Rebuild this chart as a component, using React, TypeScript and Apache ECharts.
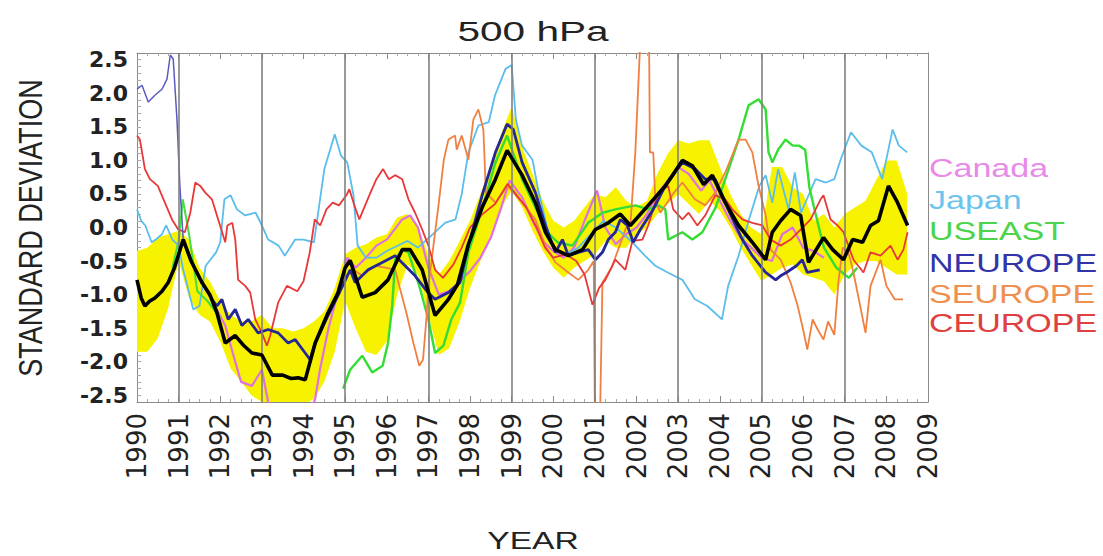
import React, { useEffect, useRef } from 'react';
import * as echarts from 'echarts';

const titleText = '500 hPa';
const yAxisTitle = 'STANDARD DEVIATION';
const xAxisTitle = 'YEAR';
const gridYears = [1991, 1993, 1995, 1997, 1999, 2001, 2003, 2005, 2007];

const legendNames = ['Canada', 'Japan', 'USEAST', 'NEUROPE', 'SEUROPE', 'CEUROPE'];
const legendColors = ['#e88ae8', '#6cc4ee', '#4cd44c', '#3333aa', '#f09050', '#e04040'];

const bandYears = [
  1990, 1990.25, 1990.5, 1990.75, 1991, 1991.25, 1991.5, 1991.75, 1992, 1992.25, 1992.5, 1992.75,
  1993, 1993.25, 1993.5, 1993.75, 1994, 1994.25, 1994.5, 1994.75, 1995, 1995.25, 1995.5, 1995.75,
  1996, 1996.25, 1996.5, 1996.75, 1997, 1997.25, 1997.5, 1997.75, 1998, 1998.25, 1998.5, 1998.75,
  1999, 1999.25, 1999.5, 1999.75, 2000, 2000.25, 2000.5, 2000.75, 2001, 2001.25, 2001.5, 2001.75,
  2002, 2002.25, 2002.5, 2002.75, 2003, 2003.25, 2003.5, 2003.75, 2004, 2004.25, 2004.5, 2004.75,
  2005, 2005.25, 2005.5, 2005.75, 2006, 2006.25, 2006.5, 2006.75, 2007, 2007.25, 2007.5, 2007.75,
  2008, 2008.25, 2008.5,
];
const bandUpper = [
  -0.35, -0.3, -0.15, -0.1, -0.05, -0.18, -0.6, -0.8, -1.1, -1.3, -1.4, -1.4,
  -1.3, -1.5, -1.5, -1.55, -1.5, -1.4, -1.25, -0.9, -0.4, -0.3, -0.25, -0.15,
  -0.1, 0.15, 0.2, 0.0, -0.4, -0.7, -0.5, -0.2, 0.1, 0.5, 0.9, 1.4,
  1.8, 1.2, 0.8, 0.4, 0.1, 0.0, 0.1, 0.3, 0.5, 0.45, 0.6, 0.4,
  0.3, 0.4, 0.8, 1.1, 1.3, 1.25, 1.3, 1.3, 0.9, 0.5, 0.2, 0.0,
  -0.1, 0.9, 0.9, 0.6, 0.5, 0.1, 0.2, 0.0, 0.2, 0.3, 0.4, 0.7,
  1.0, 1.0, 0.5,
];
const bandLower = [
  -1.85, -1.85, -1.65, -1.2, -0.5, -1.05, -1.3, -1.4, -1.7, -2.1, -2.3, -2.5,
  -2.6, -2.65, -2.65, -2.65, -2.65, -2.55, -2.3, -1.85, -1.1, -1.5, -1.85, -1.9,
  -1.7, -1.0, -0.55, -0.7, -1.3, -1.9, -1.8, -1.4, -0.9, -0.5, -0.1, 0.3,
  0.55, 0.3, -0.05, -0.35, -0.6, -0.75, -0.6, -0.5, -0.4, -0.2, -0.3, -0.3,
  -0.1, 0.0, 0.2, 0.35, 0.5, 0.35, 0.2, 0.4, 0.25, 0.0, -0.3, -0.55,
  -0.8, -0.7, -0.6, -0.55, -0.7, -0.75, -0.8, -1.0, -0.7, -0.55, -0.5, -0.5,
  -0.6, -0.7, -0.7,
];

const canada = [
  [1991.9, -1.2],
  [1992.12, -1.46], [1992.3, -1.87], [1992.5, -2.3], [1992.76, -2.36], [1993.0, -2.12], [1993.15, -2.6],
  [1993.3, -2.9], [1994.1, -2.9], [1994.28, -2.55], [1994.4, -2.1], [1994.6, -1.5], [1994.83, -0.95],
  [1995.05, -0.45], [1995.25, -0.6], [1995.5, -0.45], [1995.75, -0.27], [1996.0, -0.18], [1996.37, 0.12],
  [1996.56, 0.18], [1996.75, 0.0], [1997.0, -0.6], [1997.25, -1.0], [1997.5, -0.95], [1997.75, -0.8],
  [1998.0, -0.65], [1998.25, -0.45], [1998.5, -0.15], [1998.75, 0.3], [1998.95, 0.7], [1999.25, 0.45],
  [1999.5, 0.1], [1999.75, -0.2], [2000.0, -0.35], [2000.25, -0.45], [2000.5, -0.3], [2000.75, 0.1],
  [2001.05, 0.55], [2001.25, 0.0], [2001.5, -0.25], [2001.75, -0.1], [2002.0, 0.0], [2002.25, 0.2],
  [2002.5, 0.5], [2002.75, 0.7], [2003.0, 0.9], [2003.25, 0.8], [2003.55, 0.55], [2003.75, 0.7],
  [2004.0, 0.4], [2004.25, 0.1], [2004.5, -0.15], [2004.75, -0.3], [2005.0, -0.45], [2005.25, -0.5],
  [2005.5, -0.1], [2005.75, 0.0], [2006.0, -0.3], [2006.25, -0.35], [2006.5, -0.45],
];

const japan = [
  [1990.0, 0.27], [1990.1, 0.1], [1990.2, 0.03], [1990.35, -0.22], [1990.45, -0.18], [1990.6, -0.1],
  [1990.7, 0.03], [1990.85, -0.18], [1991.0, -0.27], [1991.1, -0.6], [1991.35, -1.22], [1991.5, -1.17],
  [1991.65, -0.57], [1991.9, -0.37], [1992.0, -0.22], [1992.1, 0.42], [1992.25, 0.48], [1992.4, 0.27],
  [1992.6, 0.18], [1992.85, 0.22], [1993.0, 0.03], [1993.15, -0.18], [1993.4, -0.27], [1993.55, -0.42],
  [1993.8, -0.18], [1994.0, -0.18], [1994.25, -0.22], [1994.5, 0.87], [1994.75, 1.39], [1994.9, 1.07],
  [1995.05, 0.97], [1995.2, 0.48], [1995.3, -0.27], [1995.5, -0.45], [1995.75, -0.45], [1996.0, -0.35],
  [1996.5, -0.2], [1996.75, -0.3], [1997.16, -0.07], [1997.4, 0.07], [1997.65, 0.12], [1997.8, 0.5],
  [1997.96, 1.12], [1998.2, 1.52], [1998.45, 1.57], [1998.6, 1.97], [1998.85, 2.36], [1999.0, 2.42],
  [1999.1, 1.61], [1999.25, 1.22], [1999.5, 1.01], [1999.65, 0.52], [1999.85, 0.0], [2000.0, -0.3],
  [2000.3, -0.4], [2000.6, -0.3], [2000.9, -0.1], [2001.2, 0.1], [2001.5, 0.0], [2001.9, -0.22],
  [2002.2, -0.42], [2002.45, -0.57], [2002.75, -0.67], [2003.1, -0.78], [2003.4, -1.07], [2003.7, -1.17],
  [2004.05, -1.37], [2004.2, -0.87], [2004.45, -0.42], [2004.7, 0.12], [2004.95, 0.62], [2005.1, 0.78],
  [2005.26, 0.37], [2005.4, 0.87], [2005.65, 0.27], [2005.8, 0.82], [2005.95, 0.22], [2006.3, 0.72],
  [2006.55, 0.67], [2006.75, 0.72], [2006.9, 1.01], [2007.15, 1.42], [2007.4, 1.22], [2007.65, 1.12],
  [2007.9, 0.72], [2008.15, 1.46], [2008.3, 1.22], [2008.5, 1.12],
];

const useastEarly = [
  [1990.85, -0.6], [1991.0, -0.2], [1991.1, 0.42], [1991.25, -0.1], [1991.45, -0.95], [1991.7, -1.1],
  [1992.0, -1.35],
];

const useast = [
  [1994.95, -2.4], [1995.12, -2.12], [1995.41, -1.91], [1995.65, -2.16], [1995.9, -2.06], [1996.03, -1.72],
  [1996.13, -1.17], [1996.2, -0.48], [1996.37, -0.33], [1996.52, -0.37], [1996.78, -0.87], [1997.0, -1.37],
  [1997.16, -1.87], [1997.36, -1.76], [1997.55, -1.37], [1997.76, -1.12], [1997.96, -0.37], [1998.29, 0.27],
  [1998.61, 0.97], [1998.89, 1.37], [1999.25, 0.72], [1999.63, 0.22], [1999.86, -0.07], [2000.1, -0.22],
  [2000.46, -0.27], [2000.84, 0.07], [2001.18, 0.22], [2001.49, 0.27], [2001.97, 0.33], [2002.28, 0.27],
  [2002.52, 0.33], [2002.69, 0.27], [2002.76, -0.18], [2003.1, -0.07], [2003.34, -0.18], [2003.58, -0.07],
  [2003.9, 0.3], [2004.13, 0.72], [2004.45, 1.31], [2004.69, 1.82], [2004.93, 1.91], [2005.1, 1.76],
  [2005.17, 1.12], [2005.26, 0.97], [2005.4, 1.16], [2005.58, 1.31], [2005.75, 1.22], [2005.9, 1.22],
  [2006.05, 1.16], [2006.15, 0.6], [2006.3, 0.2], [2006.5, -0.3], [2006.8, -0.6], [2007.1, -0.75],
  [2007.3, -0.6],
];

const neuropeEarly = [
  [1990.0, 2.06], [1990.12, 2.12], [1990.27, 1.87], [1990.43, 1.97], [1990.6, 2.06], [1990.72, 2.21],
  [1990.8, 2.57], [1990.87, 2.51], [1990.96, 1.61], [1991.03, 0.62], [1991.11, -0.18],
];

const neurope = [
  [1991.11, -0.18], [1991.3, -0.5],
  [1991.56, -0.82], [1991.8, -1.07], [1991.92, -1.17], [1992.04, -1.07], [1992.19, -1.37], [1992.36, -1.22],
  [1992.52, -1.46], [1992.67, -1.37], [1992.91, -1.57], [1993.15, -1.52], [1993.39, -1.57], [1993.63, -1.72],
  [1993.8, -1.67], [1994.04, -1.87], [1994.16, -1.97], [1994.28, -1.72], [1994.59, -1.31], [1994.83, -1.01],
  [1995.12, -0.63], [1995.24, -0.82], [1995.55, -0.63], [1995.89, -0.52], [1996.2, -0.42], [1996.44, -0.57],
  [1996.68, -0.72], [1996.99, -0.97], [1997.16, -1.07], [1997.48, -0.97], [1997.76, -0.82], [1997.96, -0.27],
  [1998.29, 0.48], [1998.61, 1.12], [1998.89, 1.54], [1999.04, 1.46], [1999.25, 0.97], [1999.57, 0.52],
  [1999.81, 0.03], [2000.05, -0.37], [2000.22, -0.18], [2000.36, -0.42], [2000.6, -0.37], [2000.84, -0.33],
  [2001.01, -0.48], [2001.18, -0.37], [2001.32, -0.18], [2001.49, -0.07], [2001.61, 0.12], [2001.78, 0.03],
  [2001.92, -0.22], [2002.09, -0.03], [2002.4, 0.27], [2002.69, 0.62], [2003.1, 0.97], [2003.41, 0.87],
  [2003.65, 0.72], [2003.89, 0.72], [2004.2, 0.27], [2004.54, -0.18], [2004.78, -0.42], [2005.1, -0.67],
  [2005.34, -0.78], [2005.46, -0.72], [2005.6, -0.67], [2005.84, -0.57], [2005.98, -0.48], [2006.1, -0.67],
  [2006.4, -0.63],
];

const seurope = [
  [1995.15, -0.6], [1995.4, -0.72], [1995.72, -0.57], [1996.0, -0.6],
  [1996.2, -0.63], [1996.3, -0.87], [1996.47, -1.27], [1996.64, -1.72], [1996.78, -2.06], [1996.87, -1.97],
  [1996.95, -1.37], [1997.0, -0.87], [1997.1, -0.37], [1997.25, 0.37], [1997.37, 1.01], [1997.48, 1.31],
  [1997.64, 1.37], [1997.68, 1.16], [1997.8, 1.37], [1997.96, 1.01], [1998.08, 1.61], [1998.2, 1.76],
  [1998.32, 1.46], [1998.38, 0.52], [1998.61, 0.37], [1998.9, 0.62], [1999.25, 0.37], [1999.57, 0.12],
  [1999.81, -0.27], [2000.05, -0.52], [2000.36, -0.67], [2000.6, -0.78], [2000.84, -0.63], [2000.97, -0.5],
  [2001.0, -2.9], [2001.12, -2.9], [2001.18, -0.82], [2001.4, -0.6], [2001.75, 0.0], [2001.85, 0.03],
  [2001.97, 1.12], [2002.09, 2.8], [2002.3, 2.8], [2002.32, 1.12], [2002.4, 1.12], [2002.45, 0.42],
  [2002.57, 0.22], [2002.9, 0.52], [2003.1, 0.67], [2003.4, 0.42], [2003.65, 0.33], [2003.89, 0.52],
  [2004.13, 0.82], [2004.45, 1.31], [2004.62, 1.31], [2004.78, 1.12], [2004.93, 0.62], [2005.1, 0.18],
  [2005.22, -0.33], [2005.46, -0.48], [2005.7, -0.82], [2005.87, -1.17], [2006.0, -1.52], [2006.1, -1.82],
  [2006.23, -1.37], [2006.35, -1.52], [2006.49, -1.67], [2006.6, -1.4], [2006.75, -1.6], [2006.85, -0.8],
  [2006.95, -0.3], [2007.1, -0.4], [2007.21, -0.67], [2007.5, -1.57], [2007.62, -0.87], [2007.86, -0.48],
  [2008.0, -0.87], [2008.2, -1.07], [2008.4, -1.07],
];

const ceurope = [
  [1990.0, 1.37], [1990.07, 1.31], [1990.19, 0.87], [1990.31, 0.72], [1990.5, 0.62], [1990.67, 0.37],
  [1990.84, 0.12], [1990.99, -0.03], [1991.15, -0.07], [1991.28, 0.22], [1991.4, 0.67], [1991.52, 0.62],
  [1991.64, 0.52], [1991.8, 0.42], [1991.95, 0.12], [1992.12, -0.22], [1992.17, 0.03], [1992.29, 0.07],
  [1992.36, -0.18], [1992.43, -0.78], [1992.6, -0.87], [1992.72, -0.97], [1992.84, -1.37], [1993.0, -1.57],
  [1993.12, -1.76], [1993.2, -1.61], [1993.39, -1.12], [1993.6, -0.87], [1993.85, -0.95], [1994.0, -0.8],
  [1994.15, -0.37], [1994.27, 0.12], [1994.4, 0.03], [1994.55, 0.27], [1994.7, 0.37], [1994.85, 0.33],
  [1995.03, 0.48], [1995.1, 0.57], [1995.22, 0.33], [1995.34, 0.12], [1995.58, 0.48], [1995.75, 0.72],
  [1995.91, 0.87], [1996.05, 0.72], [1996.2, 0.78], [1996.37, 0.72], [1996.52, 0.42], [1996.68, 0.22],
  [1996.85, -0.03], [1997.0, -0.27], [1997.16, -0.63], [1997.35, -0.75], [1997.6, -0.55], [1997.8, -0.3],
  [1998.0, 0.0], [1998.3, 0.2], [1998.6, 0.35], [1998.9, 0.65], [1999.1, 0.5], [1999.35, 0.3],
  [1999.6, 0.0], [1999.8, -0.3], [2000.0, -0.45], [2000.3, -0.4], [2000.55, -0.5], [2000.75, -0.7],
  [2000.94, -1.15], [2001.1, -0.9], [2001.25, -0.78], [2001.49, -0.48], [2001.73, -0.63], [2001.9, -0.2],
  [2002.14, -0.18], [2002.28, 0.03], [2002.52, 0.52], [2002.76, 0.62], [2002.88, 0.27], [2003.1, 0.12],
  [2003.25, 0.22], [2003.46, 0.03], [2003.65, 0.18], [2003.89, 0.48], [2004.13, 0.42], [2004.3, 0.27],
  [2004.54, 0.12], [2004.78, 0.07], [2005.02, 0.03], [2005.22, -0.18], [2005.46, -0.27], [2005.7, -0.18],
  [2005.94, -0.03], [2006.18, 0.12], [2006.42, 0.42], [2006.49, 0.48], [2006.66, 0.12], [2006.83, 0.03],
  [2006.97, -0.07], [2007.21, -0.48], [2007.45, -0.67], [2007.62, -0.37], [2007.86, -0.42], [2008.1, -0.27],
  [2008.27, -0.48], [2008.41, -0.33], [2008.51, -0.07],
];

const mean = [
  [1990.0, -0.78], [1990.1, -1.05], [1990.19, -1.17], [1990.3, -1.1], [1990.43, -1.05], [1990.6, -0.95],
  [1990.75, -0.82], [1990.9, -0.6], [1991.11, -0.18], [1991.3, -0.5], [1991.56, -0.82], [1991.75, -1.0],
  [1991.92, -1.27], [1992.12, -1.72], [1992.36, -1.61], [1992.55, -1.75], [1992.76, -1.87], [1993.0, -1.9],
  [1993.25, -2.2], [1993.5, -2.2], [1993.7, -2.25], [1993.87, -2.24], [1994.04, -2.27], [1994.28, -1.72],
  [1994.59, -1.27], [1994.83, -0.97], [1995.0, -0.6], [1995.12, -0.49], [1995.41, -1.04], [1995.72, -0.97],
  [1996.03, -0.78], [1996.37, -0.33], [1996.56, -0.33], [1996.85, -0.63], [1997.16, -1.31], [1997.48, -1.07],
  [1997.7, -0.85], [1997.96, -0.25], [1998.29, 0.3], [1998.61, 0.72], [1998.89, 1.15], [1999.25, 0.78],
  [1999.57, 0.37], [1999.81, -0.07], [2000.05, -0.33], [2000.36, -0.42], [2000.7, -0.33], [2001.01, -0.03],
  [2001.32, 0.07], [2001.61, 0.2], [2001.85, 0.03], [2002.28, 0.33], [2002.69, 0.62], [2003.1, 1.0],
  [2003.34, 0.92], [2003.61, 0.64], [2003.82, 0.78], [2004.13, 0.37], [2004.45, 0.03], [2004.78, -0.22],
  [2005.1, -0.48], [2005.26, -0.07], [2005.46, 0.1], [2005.7, 0.27], [2005.94, 0.18], [2006.13, -0.52],
  [2006.49, -0.15], [2006.71, -0.33], [2006.97, -0.48], [2007.19, -0.18], [2007.43, -0.22], [2007.62, 0.03],
  [2007.81, 0.1], [2008.05, 0.62], [2008.27, 0.37], [2008.51, 0.03],
];

const FONT = '"Liberation Sans", Arial, sans-serif';

function lineSeries(name: string, data: number[][], color: string, width: number, z: number) {
  return {
    name,
    type: 'line',
    data,
    showSymbol: false,
    symbol: 'none',
    clip: true,
    z,
    lineStyle: { color, width },
    emphasis: { disabled: true },
    silent: true,
  };
}

export default function App() {
  const ref = useRef<HTMLDivElement>(null);

  useEffect(() => {
    if (!ref.current) return;
    const chart = echarts.init(ref.current, null, { renderer: 'svg' });

    const legendY = [168, 200, 231, 263, 294, 323];
    const graphics: any[] = [
      {
        type: 'text', x: 533, y: 31, scaleX: 1.45,
        style: { text: titleText, font: `28px ${FONT}`, fill: '#222', textAlign: 'center', textVerticalAlign: 'middle' },
      },
      {
        type: 'text', x: 31, y: 228, rotation: Math.PI / 2, scaleY: 1.2,
        style: { text: yAxisTitle, font: `27px ${FONT}`, fill: '#222', textAlign: 'center', textVerticalAlign: 'middle' },
      },
      {
        type: 'text', x: 533, y: 541, scaleX: 1.4,
        style: { text: xAxisTitle, font: `24px ${FONT}`, fill: '#222', textAlign: 'center', textVerticalAlign: 'middle' },
      },
    ];
    legendNames.forEach((n, i) => {
      graphics.push({
        type: 'text', x: 929, y: legendY[i], scaleX: 1.36,
        style: { text: n, font: `25px ${FONT}`, fill: legendColors[i], textAlign: 'left', textVerticalAlign: 'middle' },
      });
    });

    const axisGray = '#8a8a8a';
    const bandData = bandYears.map((y, i) => [y, bandLower[i], bandUpper[i]]);

    chart.setOption({
      animation: false,
      backgroundColor: '#ffffff',
      grid: { left: 137, right: 175, top: 53, bottom: 154, containLabel: false },
      xAxis: [
        {
          type: 'value', min: 1990, max: 2009, interval: 1, position: 'bottom',
          axisLine: { show: true, onZero: false, lineStyle: { color: axisGray, width: 1 } },
          axisTick: { show: true, inside: true, length: 6, lineStyle: { color: axisGray } },
          minorTick: { show: true, splitNumber: 4, length: 3, lineStyle: { color: '#aaaaaa' } },
          splitLine: { show: false },
          axisLabel: {
            rotate: 90, margin: 11, fontSize: 26, fontFamily: '"DejaVu Sans", sans-serif', color: '#222',
            showMinLabel: true, showMaxLabel: true,
            formatter: (v: number) => String(Math.round(v)),
          },
        },
        {
          type: 'value', min: 1990, max: 2009, interval: 1, position: 'top',
          axisLine: { show: true, onZero: false, lineStyle: { color: axisGray, width: 1 } },
          axisTick: { show: true, inside: true, length: 6, lineStyle: { color: axisGray } },
          minorTick: { show: true, splitNumber: 4, length: 3, lineStyle: { color: '#aaaaaa' } },
          splitLine: { show: false },
          axisLabel: { show: false },
        },
      ],
      yAxis: [
        {
          type: 'value', min: -2.6, max: 2.6, interval: 0.1, position: 'left',
          axisLine: { show: true, onZero: false, lineStyle: { color: axisGray, width: 1 } },
          axisTick: { show: true, inside: true, length: 4, lineStyle: { color: '#aaaaaa' } },
          splitLine: { show: false },
          axisLabel: {
            margin: 9, fontSize: 22, fontWeight: 'bold', fontFamily: '"DejaVu Sans", sans-serif', color: '#222',
            showMinLabel: false, showMaxLabel: false,
            formatter: (v: number) => (Math.abs(v * 2 - Math.round(v * 2)) < 1e-6 ? v.toFixed(1) : ''),
          },
        },
        {
          type: 'value', min: -2.6, max: 2.6, position: 'right',
          axisLine: { show: true, onZero: false, lineStyle: { color: axisGray, width: 1 } },
          axisTick: { show: false }, axisLabel: { show: false }, splitLine: { show: false },
        },
      ],
      graphic: graphics,
      series: [
        {
          name: 'grid lines', type: 'line', data: [[1990, 0]], showSymbol: false, symbol: 'none',
          lineStyle: { opacity: 0, width: 0 }, z: 1, silent: true,
          markLine: {
            silent: true, symbol: ['none', 'none'], label: { show: false },
            lineStyle: { color: '#808080', width: 1.6, type: 'solid' },
            emphasis: { disabled: true },
            data: gridYears.map((y) => ({ xAxis: y })),
          },
        },
        {
          name: 'spread', type: 'custom', z: 2, silent: true, clip: true,
          data: bandData,
          encode: { x: 0, y: [1, 2] },
          renderItem: (params: any, api: any) => {
            if (params.dataIndex !== 0) return null;
            const top = bandData.map((d) => api.coord([d[0], d[2]]));
            const bottom = bandData.map((d) => api.coord([d[0], d[1]])).reverse();
            const cs = params.coordSys;
            return {
              type: 'polygon',
              shape: { points: top.concat(bottom) },
              style: { fill: '#f7f200', stroke: 'none' },
              clipPath: { type: 'rect', shape: { x: cs.x, y: cs.y, width: cs.width, height: cs.height } },
            };
          },
        },
        lineSeries('Canada', canada, '#e070e0', 2.2, 3),
        lineSeries('Japan', japan, '#5bbdec', 1.8, 3),
        lineSeries('USEAST', useastEarly, '#44dd44', 2.0, 3),
        lineSeries('USEAST', useast, '#33dd33', 2.4, 3),
        lineSeries('SEUROPE', seurope, '#f08040', 1.8, 3),
        lineSeries('CEUROPE', ceurope, '#e83838', 1.8, 3),
        lineSeries('NEUROPE', neuropeEarly, '#5a5ac0', 1.5, 4),
        lineSeries('NEUROPE', neurope, '#262696', 2.8, 4),
        lineSeries('mean', mean, '#000000', 3.6, 5),
      ],
    });

    return () => chart.dispose();
  }, []);

  return (
    <div
      ref={ref}
      style={{ position: 'absolute', left: 0, top: 0, width: 1103, height: 556, background: '#fff' }}
    />
  );
}
